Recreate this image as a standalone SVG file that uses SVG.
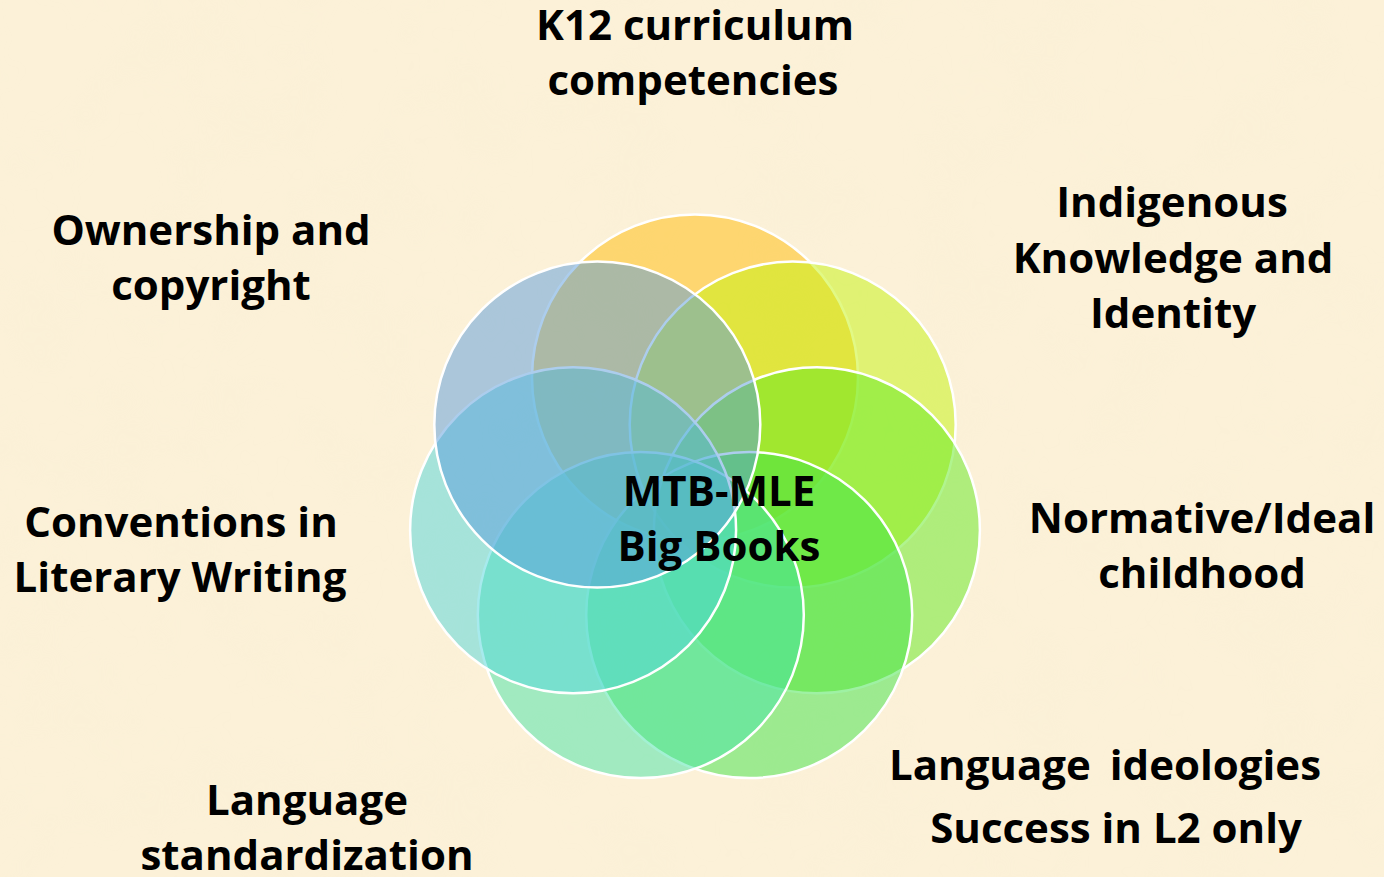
<svg xmlns="http://www.w3.org/2000/svg" width="1384" height="877" viewBox="0 0 1384 877">
<style>
.c{stroke:#ffffff;stroke-width:2.5;fill-opacity:0.5}
.t{font-family:"Open Sans","Liberation Sans",sans-serif;font-weight:bold;font-size:42px;fill:#000;text-anchor:middle}
</style>
<defs>
<filter id="paper" x="0" y="0" width="100%" height="100%">
<feTurbulence type="fractalNoise" baseFrequency="0.012" numOctaves="3" seed="4" result="n"/>
<feColorMatrix in="n" type="matrix" values="0 0 0 0 0.93  0 0 0 0 0.86  0 0 0 0 0.66  0 0 0 1.4 -0.55"/>
</filter>
</defs>
<rect x="0" y="0" width="1384" height="877" fill="#FCF1D8"/>
<rect x="0" y="0" width="1384" height="877" filter="url(#paper)" opacity="0.35"/>
<g id="circles">
<g id="c-top"><circle class="c" cx="695" cy="377.5" r="163" fill="#FFBB07"/></g>
<g id="c-upper-right"><circle class="c" cx="792.7" cy="424.6" r="163" fill="#C3F30D"/></g>
<g id="c-right"><circle class="c" cx="816.9" cy="530.3" r="163" fill="#61E91F"/></g>
<g id="c-lower-right"><circle class="c" cx="749.2" cy="615.1" r="163" fill="#3DE347"/></g>
<g id="c-lower-left"><circle class="c" cx="640.8" cy="615.1" r="163" fill="#45E3A7"/></g>
<g id="c-left"><circle class="c" cx="573.1" cy="530.3" r="163" fill="#4FD5DB"/></g>
<g id="c-upper-left"><circle class="c" cx="597.3" cy="424.6" r="163" fill="#599BDB"/></g>
</g>
<g id="center-label"><text class="t" x="719" y="506">MTB-MLE</text><text class="t" x="719" y="561">Big Books</text></g>
<g id="label-k12"><text class="t" x="695" y="40">K12 curriculum</text><text class="t" x="693" y="95">competencies</text></g>
<g id="label-ownership"><text class="t" x="211" y="245">Ownership and</text><text class="t" x="211" y="300">copyright</text></g>
<g id="label-indigenous"><text class="t" x="1172" y="217">Indigenous</text><text class="t" x="1173" y="273">Knowledge and</text><text class="t" x="1173" y="328">Identity</text></g>
<g id="label-normative"><text class="t" x="1202" y="533">Normative/Ideal</text><text class="t" x="1202" y="588">childhood</text></g>
<g id="label-conventions"><text class="t" x="181" y="537">Conventions in</text><text class="t" x="180" y="592">Literary Writing</text></g>
<g id="label-standardization"><text class="t" x="307" y="815">Language</text><text class="t" x="307" y="870">standardization</text></g>
<g id="label-ideologies"><text class="t" x="1105" y="780" style="word-spacing:8px">Language ideologies</text><text class="t" x="1116" y="843">Success in L2 only</text></g>
</svg>
